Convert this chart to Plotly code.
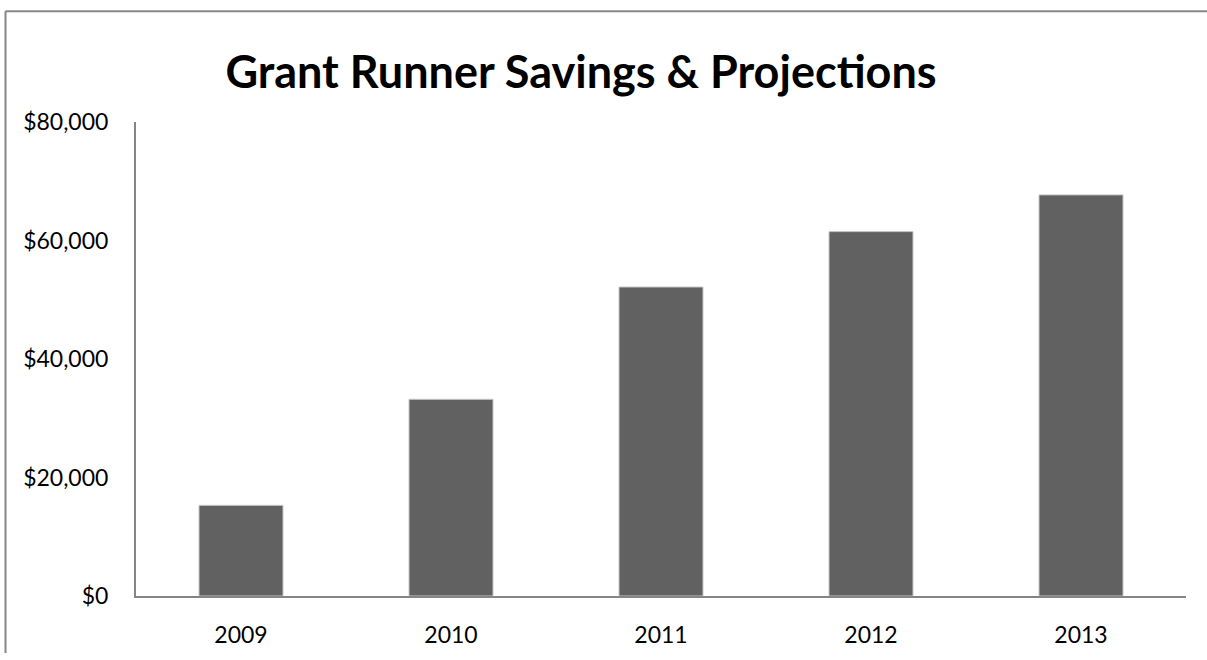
import plotly.graph_objects as go

years = ["2009", "2010", "2011", "2012", "2013"]
savings = [15300, 33200, 52150, 61500, 67700]
y_ticks = [0, 20000, 40000, 60000, 80000]
y_tick_labels = ["$0", "$20,000", "$40,000", "$60,000", "$80,000"]

W, H = 1207, 660
L, R, T, B = 136, 21, 122, 56
pw, ph = W - L - R, H - T - B

def px_x(px):
    return (px - L) / pw

def px_y(py):
    return (H - B - py) / ph

fig = go.Figure(
    go.Bar(
        x=years,
        y=savings,
        marker=dict(color="#616161", line=dict(color="#c8c8c8", width=1)),
    )
)

fig.update_layout(
    width=W,
    height=H,
    margin=dict(l=L, r=R, t=T, b=B, pad=0),
    paper_bgcolor="white",
    plot_bgcolor="white",
    bargap=0.6,
    showlegend=False,
    font=dict(family="Lato, 'Open Sans', sans-serif", color="#000000", size=23),
    title=dict(
        text="<b>Grant Runner Savings &amp; Projections</b>",
        x=581 / W,
        xanchor="center",
        y=1 - 72 / H,
        yanchor="middle",
        font=dict(family="Lato, 'Open Sans', sans-serif", size=45, color="#000000"),
    ),
    shapes=[
        dict(type="line", xref="paper", yref="paper",
             x0=px_x(5.5), x1=px_x(W + 2), y0=px_y(9.5), y1=px_y(9.5),
             line=dict(color="#868686", width=2)),
        dict(type="line", xref="paper", yref="paper",
             x0=px_x(5.5), x1=px_x(5.5), y0=px_y(9.5), y1=px_y(H + 2),
             line=dict(color="#868686", width=2)),
    ],
)

fig.update_xaxes(
    showline=True,
    linecolor="#868686",
    linewidth=2,
    showgrid=False,
    ticks="",
    ticklabelstandoff=17,
    tickfont=dict(size=23),
)

fig.update_yaxes(
    range=[0, 80000],
    tickvals=y_ticks,
    ticktext=y_tick_labels,
    showline=True,
    linecolor="#868686",
    linewidth=2,
    showgrid=False,
    zeroline=False,
    ticks="",
    ticklabelstandoff=21,
    tickfont=dict(size=23),
)

fig.write_html(
    "out.html",
    config={"displayModeBar": False},
    post_script="document.body.style.margin='0';document.body.style.overflow='hidden';",
)
